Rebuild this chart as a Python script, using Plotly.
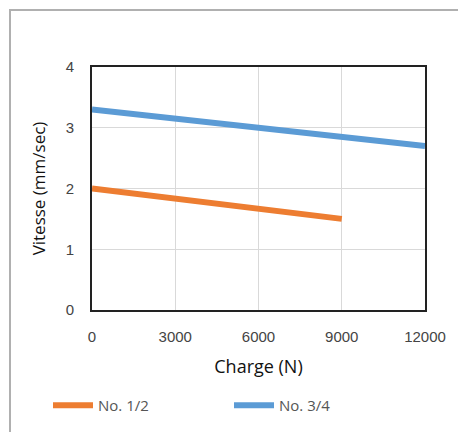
import plotly.graph_objects as go

charge = [0, 3000, 6000, 9000, 12000]
vitesse_12 = [2.0, 1.83, 1.67, 1.5]
vitesse_34 = [3.3, 3.15, 3.0, 2.85, 2.7]
series_names = ["No. 1/2", "No. 3/4"]
x_ticks = [0, 3000, 6000, 9000, 12000]
y_ticks = [0, 1, 2, 3, 4]

L, R, T, B = 92, 33, 67, 122
W, H = 458, 432
pw, ph = W - L - R, H - T - B

fig = go.Figure()
fig.add_trace(go.Scatter(x=charge[:len(vitesse_12)], y=vitesse_12, mode="lines",
                         name=series_names[0], line=dict(color="#ED7D31", width=6),
                         legend="legend"))
fig.add_trace(go.Scatter(x=charge, y=vitesse_34, mode="lines",
                         name=series_names[1], line=dict(color="#5B9BD5", width=6),
                         legend="legend2"))

tickfont = dict(family="Liberation Sans, Arial, sans-serif", size=15, color="#444444")
xtitlefont = dict(family="Open Sans, Calibri, sans-serif", size=18, color="#111111")
ytitlefont = dict(family="Open Sans, Calibri, sans-serif", size=17, color="#111111")
legfont = dict(family="Open Sans, Calibri, sans-serif", size=15, color="#555555")

def leg(xpx):
    return dict(orientation="h", xref="container", yref="container",
                x=xpx / W, y=(H - 389) / H, xanchor="left", yanchor="top",
                font=legfont, itemwidth=40, bgcolor="rgba(0,0,0,0)",
                tracegroupgap=0)

fig.update_layout(
    width=W, height=H,
    margin=dict(l=L, r=R, t=T, b=B, autoexpand=False),
    paper_bgcolor="white", plot_bgcolor="white",
    showlegend=True,
    legend=leg(48),
    legend2=leg(229),
    xaxis=dict(range=[0, 12000], tickvals=x_ticks, ticktext=[str(v) for v in x_ticks],
               showgrid=True, gridcolor="#d9d9d9", gridwidth=1, zeroline=False,
               showline=True, linecolor="#222222", linewidth=2, mirror=True,
               ticks="", tickfont=tickfont, ticklabelstandoff=12, automargin=False,
               title=dict(text="Charge (N)", font=xtitlefont, standoff=16)),
    yaxis=dict(range=[0, 4], tickvals=y_ticks, ticktext=[str(v) for v in y_ticks],
               showgrid=True, gridcolor="#d9d9d9", gridwidth=1, zeroline=False,
               showline=True, linecolor="#222222", linewidth=2, mirror=True,
               ticks="", tickfont=tickfont, ticklabelstandoff=13, automargin=False,
               title=dict(text="Vitesse (mm/sec)", font=ytitlefont, standoff=16)),
)

# outer chart frame
fig.add_shape(type="rect", xref="paper", yref="paper",
              x0=(10 - L) / pw, x1=(470 - L) / pw,
              y0=-(H + 10 - T - ph) / ph, y1=1 + (T - 10) / ph,
              line=dict(color="#b0b0b0", width=2), fillcolor="rgba(0,0,0,0)", layer="below")

fig.write_html("out.html", config={"displayModeBar": False},
               post_script="document.body.style.margin='0';document.body.style.overflow='hidden';")
